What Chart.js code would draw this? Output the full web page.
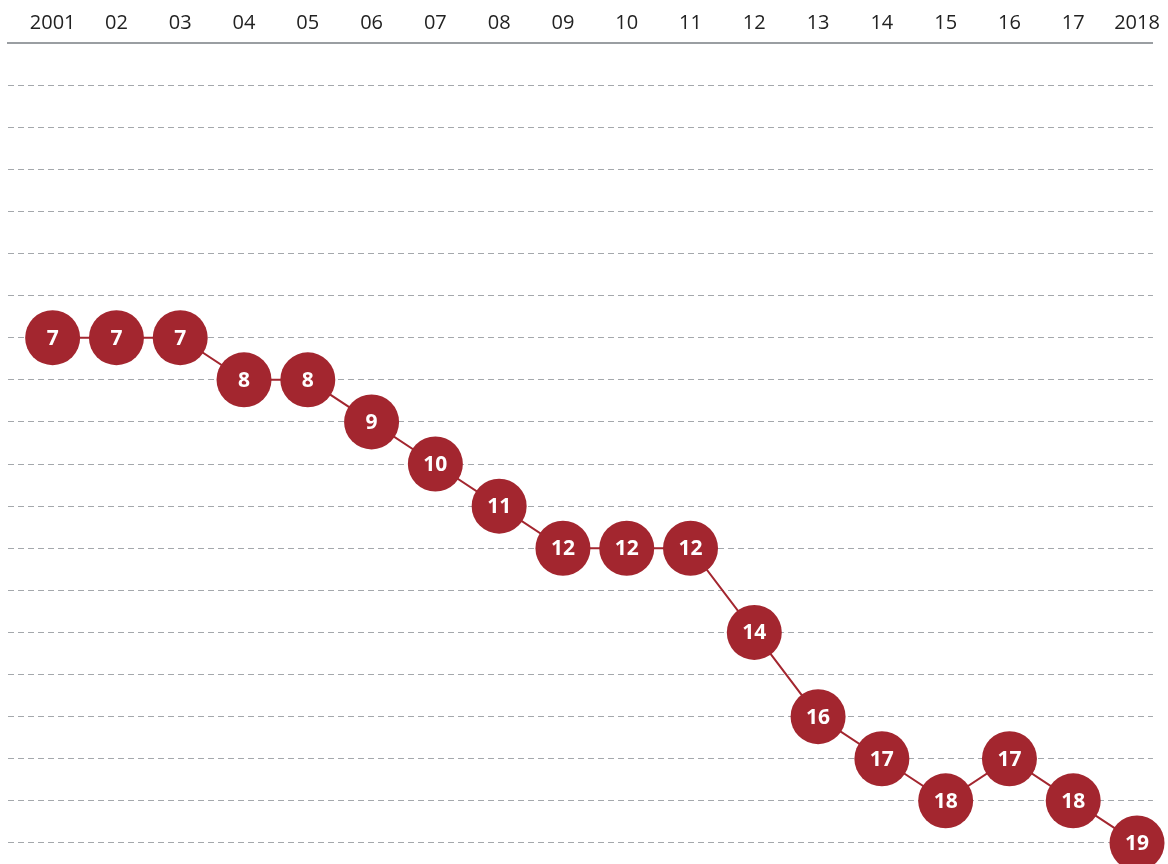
<!DOCTYPE html>
<html>
<head>
<meta charset="utf-8">
<script src="https://cdn.jsdelivr.net/npm/chart.js@4"></script>
<style>
  html, body { margin: 0; padding: 0; background: #fff; }
  #wrap { width: 1168px; height: 864px; }
</style>
</head>
<body>
<div id="wrap"><canvas id="rankChart"></canvas></div>
<script>
// Years and ranking positions
const years = [2001, 2002, 2003, 2004, 2005, 2006, 2007, 2008, 2009, 2010, 2011, 2012, 2013, 2014, 2015, 2016, 2017, 2018];
const ranks = [7, 7, 7, 8, 8, 9, 10, 11, 12, 12, 12, 14, 16, 17, 18, 17, 18, 19];
const yearLabels = ["2001", "02", "03", "04", "05", "06", "07", "08", "09", "10", "11", "12", "13", "14", "15", "16", "17", "2018"];

const red = "#a3262f";

// Draws the rank number inside each circle
const rankLabels = {
  id: "rankLabels",
  afterDatasetsDraw(chart) {
    const ctx = chart.ctx;
    const meta = chart.getDatasetMeta(0);
    ctx.save();
    ctx.fillStyle = "#ffffff";
    ctx.font = "bold 21px 'Open Sans', sans-serif";
    ctx.textAlign = "center";
    ctx.textBaseline = "middle";
    meta.data.forEach((pt, i) => {
      ctx.fillText(String(ranks[i]), pt.x, pt.y + 1);
    });
    ctx.restore();
  }
};

const ctx = document.getElementById("rankChart");

new Chart(ctx, {
  type: "line",
  data: {
    datasets: [
      {
        data: years.map((y, i) => ({ x: y, y: ranks[i] })),
        borderColor: red,
        borderWidth: 2,
        backgroundColor: red,
        pointBackgroundColor: red,
        pointBorderWidth: 0,
        pointRadius: 27.5,
        pointHoverRadius: 27.5,
        tension: 0,
        clip: false,
      },
    ],
  },
  options: {
    responsive: true,
    maintainAspectRatio: false,
    animation: false,
    layout: { autoPadding: false, padding: { top: 3, left: 8, right: 8, bottom: 0 } },
    plugins: {
      legend: { display: false },
      tooltip: { enabled: false },
    },
    scales: {
      x: {
        type: "linear",
        position: "top",
        min: 2000.3,
        max: 2018.25,
        afterBuildTicks: (axis) => {
          axis.ticks = years.map((y) => ({ value: y }));
        },
        ticks: {
          autoSkip: false,
          maxRotation: 0,
          padding: 8,
          color: "#222",
          font: { size: 20, family: "'Open Sans', sans-serif" },
          callback: (v) => yearLabels[years.indexOf(v)],
        },
        grid: { display: false, drawTicks: false },
        border: { display: true, color: "#9a9ea2", width: 2 },
      },
      y: {
        type: "linear",
        display: true,
        reverse: true,
        min: 0,
        max: 19.5,
        afterBuildTicks: (axis) => {
          let t = [];
          for (let v = 1; v <= 19; v++) t.push({ value: v });
          axis.ticks = t;
        },
        afterFit: (axis) => { axis.width = 0; },
        ticks: { display: false, padding: 0 },
        grid: {
          color: "#a4a8ac",
          lineWidth: 1,
          drawTicks: false,
        },
        border: { display: false, dash: [6, 4] },
      },
    },
  },
  plugins: [rankLabels],
});
</script>
</body>
</html>
